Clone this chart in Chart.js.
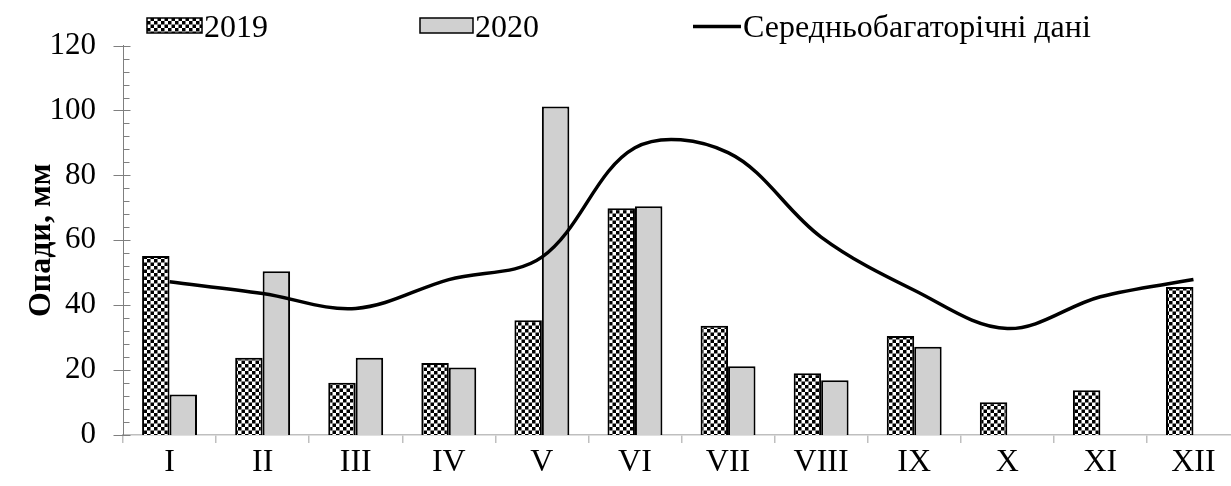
<!DOCTYPE html>
<html><head><meta charset="utf-8">
<script src="https://cdn.jsdelivr.net/npm/chart.js@4.4.1/dist/chart.umd.min.js"></script>
<style>html,body{margin:0;padding:0;overflow:hidden;background:#fff;width:1231px;height:486px}canvas{display:block}</style>
</head><body><canvas id="c" width="1240" height="486"></canvas>
<script>
const months = ['I','II','III','IV','V','VI','VII','VIII','IX','X','XI','XII'];
const precip2019 = [55.2, 23.8, 16.1, 22.2, 35.4, 69.9, 33.7, 19.0, 30.5, 10.1, 13.8, 45.6];
const precip2020 = [12.5, 50.5, 23.8, 20.8, 101.2, 70.5, 21.2, 16.9, 27.2, null, null, null];
const longTermMean = [47.2, 43.6, 39.0, 47.9, 54.8, 88.5, 87.0, 61.0, 44.6, 32.8, 42.6, 47.9];
const seriesNames = ['2019', '2020', 'Середньобагаторічні дані'];
const yTitle = 'Опади, мм';
const yMin = 0, yMax = 120, yStep = 20, yMinorStep = 4;

const FONT = '"Liberation Serif","Times New Roman",serif';
const canvas = document.getElementById('c');
const ctx0 = canvas.getContext('2d');

function makeChecker() {
  const c = document.createElement('canvas');
  c.width = 7; c.height = 7;
  const g = c.getContext('2d');
  g.fillStyle = '#fff'; g.fillRect(0, 0, 7, 7);
  g.fillStyle = '#000';
  g.fillRect(0, 0, 3.5, 3.5);
  g.fillRect(3.5, 3.5, 3.5, 3.5);
  return ctx0.createPattern(c, 'repeat');
}
const checker = makeChecker();
const gray2020 = '#d0d0d0';

const axisMarks = {
  id: 'axisMarks',
  afterDraw(chart) {
    const ctx = chart.ctx, y = chart.scales.y;
    const x0 = Math.round(chart.chartArea.left) + 0.5;
    ctx.save();
    ctx.strokeStyle = '#7f7f7f';
    ctx.lineWidth = 1;
    for (let v = yMin; v <= yMax; v += yMinorStep) {
      const py = Math.round(y.getPixelForValue(v)) + 0.5;
      ctx.beginPath();
      if (v % yStep === 0) { ctx.moveTo(x0 - 10, py); ctx.lineTo(x0 + 7, py); }
      else { ctx.moveTo(x0, py); ctx.lineTo(x0 + 6, py); }
      ctx.stroke();
    }
    ctx.restore();
  }
};

const customLegend = {
  id: 'customLegend',
  afterDraw(chart) {
    const ctx = chart.ctx;
    const ds = chart.data.datasets;
    ctx.save();
    ctx.font = '32px ' + FONT;
    ctx.textBaseline = 'alphabetic';
    ctx.fillStyle = checker; ctx.fillRect(147, 18, 55, 15);
    ctx.strokeStyle = '#000'; ctx.lineWidth = 1.5; ctx.strokeRect(147, 18, 55, 15);
    ctx.fillStyle = '#000'; ctx.fillText(ds[0].label, 204, 37);
    ctx.fillStyle = gray2020; ctx.fillRect(420, 18, 53, 15);
    ctx.strokeRect(420, 18, 53, 15);
    ctx.fillStyle = '#000'; ctx.fillText(ds[1].label, 475, 37);
    ctx.lineWidth = 3.5; ctx.beginPath(); ctx.moveTo(693, 26.5); ctx.lineTo(741, 26.5); ctx.stroke();
    ctx.fillText(ds[2].label, 743, 37);
    ctx.restore();
  }
};

new Chart(canvas, {
  type: 'bar',
  data: {
    labels: months,
    datasets: [
      { type: 'bar', label: seriesNames[0], data: precip2019, order: 1,
        backgroundColor: checker, borderColor: '#000', borderWidth: 2 },
      { type: 'bar', label: seriesNames[1], data: precip2020, order: 1,
        backgroundColor: gray2020, borderColor: '#000', borderWidth: 2 },
      { type: 'line', label: seriesNames[2], data: longTermMean, order: 0,
        borderColor: '#000', borderWidth: 3.5, pointRadius: 0, tension: 0.35, fill: false }
    ]
  },
  options: {
    responsive: false,
    animation: false,
    devicePixelRatio: 1,
    layout: { padding: { top: 45, left: 0, right: 0, bottom: 0 } },
    datasets: { bar: { categoryPercentage: 0.59, barPercentage: 1 } },
    plugins: { legend: { display: false }, tooltip: { enabled: false } },
    scales: {
      x: {
        grid: { display: true, drawOnChartArea: false, drawTicks: true, tickLength: 8, color: '#bfbfbf', lineWidth: 1.5 },
        border: { display: true, color: '#bfbfbf', width: 1.5 },
        ticks: { font: { family: FONT, size: 32 }, color: '#000', padding: 0, maxRotation: 0, autoSkip: false },
        afterFit: s => { s.height = 51; }
      },
      y: {
        min: yMin, max: yMax,
        grid: { display: false, drawTicks: false },
        border: { display: true, color: '#7f7f7f', width: 1 },
        ticks: { stepSize: yStep, font: { family: FONT, size: 31 }, color: '#000', padding: 27 },
        title: { display: true, text: yTitle, color: '#000', font: { family: FONT, size: 32, weight: 'bold' }, padding: { top: 23, bottom: 0 } },
        afterFit: s => { s.width = 123; }
      }
    }
  },
  plugins: [axisMarks, customLegend]
});
</script>
</body></html>
